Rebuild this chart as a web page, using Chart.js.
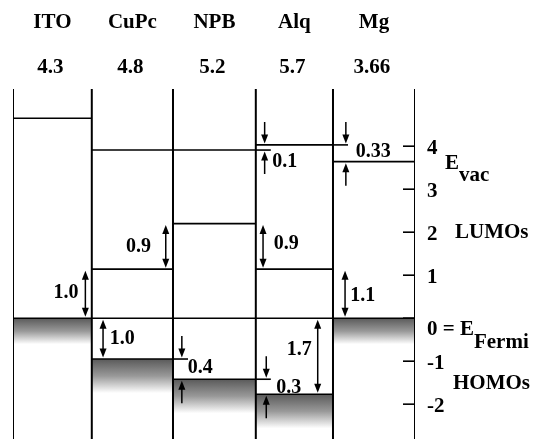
<!DOCTYPE html>
<html>
<head>
<meta charset="utf-8">
<script src="https://cdn.jsdelivr.net/npm/chart.js@4.4.1/dist/chart.umd.min.js"></script>
<style>
  html, body { margin: 0; padding: 0; background: #fff; }
</style>
</head>
<body>
<canvas id="chart" width="536" height="439"></canvas>
<script>
const layers = ['ITO', 'CuPc', 'NPB', 'Alq', 'Mg'];
const workFunctions = ['4.3', '4.8', '5.2', '5.7', '3.66'];
const layerEdges = [0, 0.98, 1.99, 3.02, 3.98, 5];
const vacuumLevels = [4.65, 3.91, 3.91, 4.03, 3.64];
const lumoLevels = [null, 1.14, 2.2, 1.14, null];
const homoLevels = [0, -0.95, -1.42, -1.77, 0];
const fermiLevel = 0;
const tickValues = [4, 3, 2, 1, 0, -1, -2];
const tickLabels = ['4', '3', '2', '1', '0 = E', '-1', '-2'];
const offsetLabels = ['1.0', '0.9', '1.0', '0.4', '0.1', '0.9', '0.33', '1.1', '1.7', '0.3'];

const FONT = 'bold 20px "Liberation Serif", "Times New Roman", serif';
const BIG = 'bold 21px "Liberation Serif", "Times New Roman", serif';

// offset markers: double arrows between two levels, pinch arrows pointing at two levels from outside
const markers = [
  { kind: 'double', x: 0.9, hi: lumoLevels[1], lo: fermiLevel, text: offsetLabels[0], tx: 0.66, ty: 0.58 },
  { kind: 'double', x: 1.9, hi: lumoLevels[2], lo: lumoLevels[1], text: offsetLabels[1], tx: 1.56, ty: 1.65 },
  { kind: 'double', x: 1.12, hi: fermiLevel, lo: homoLevels[1], text: offsetLabels[2], tx: 1.36, ty: -0.47 },
  { kind: 'pinch', x: 2.1, hi: homoLevels[1], lo: homoLevels[2], dash: 'hi', edge: layerEdges[2], text: offsetLabels[3], tx: 2.33, ty: -1.16 },
  { kind: 'pinch', x: 3.13, hi: vacuumLevels[3], lo: vacuumLevels[2], dash: 'lo', edge: layerEdges[3], text: offsetLabels[4], tx: 3.38, ty: 3.63 },
  { kind: 'double', x: 3.11, hi: lumoLevels[2], lo: lumoLevels[3], text: offsetLabels[5], tx: 3.4, ty: 1.74 },
  { kind: 'pinch', x: 4.14, hi: vacuumLevels[3], lo: vacuumLevels[4], dash: 'hi', edge: layerEdges[4], text: offsetLabels[6], tx: 4.48, ty: 3.86 },
  { kind: 'double', x: 4.13, hi: lumoLevels[3], lo: fermiLevel, text: offsetLabels[7], tx: 4.35, ty: 0.53 },
  { kind: 'double', x: 3.79, hi: fermiLevel, lo: homoLevels[3], text: offsetLabels[8], tx: 3.56, ty: -0.74 },
  { kind: 'pinch', x: 3.15, hi: homoLevels[2], lo: homoLevels[3], dash: 'hi', edge: layerEdges[3], text: offsetLabels[9], tx: 3.43, ty: -1.63 }
];

const seg = (x0, x1, y) => [{ x: x0, y }, { x: x1, y }];
const datasets = [];
const addLine = (data, width) => datasets.push({
  data, showLine: true, borderColor: '#000', borderWidth: width, pointRadius: 0, fill: false
});

layerEdges.forEach(e => addLine([{ x: e, y: -2.81 }, { x: e, y: 5.33 }], 2));
layers.forEach((name, i) => {
  addLine(seg(layerEdges[i], layerEdges[i + 1], vacuumLevels[i]), 1.6);
  if (lumoLevels[i] !== null) addLine(seg(layerEdges[i], layerEdges[i + 1], lumoLevels[i]), 1.6);
  if (homoLevels[i] !== fermiLevel) addLine(seg(layerEdges[i], layerEdges[i + 1], homoLevels[i]), 1.6);
});
addLine(seg(layerEdges[0], layerEdges[5], fermiLevel), 1.6);

function head(ctx, x, y, dir) {
  ctx.beginPath();
  ctx.moveTo(x, y);
  ctx.lineTo(x - 3.5, y - dir * 9);
  ctx.lineTo(x + 3.5, y - dir * 9);
  ctx.closePath();
  ctx.fill();
}

const shading = {
  id: 'shading',
  beforeDatasetsDraw(chart) {
    const { ctx, scales: { x, y } } = chart;
    ctx.save();
    layers.forEach((name, i) => {
      const x0 = x.getPixelForValue(layerEdges[i]);
      const x1 = x.getPixelForValue(layerEdges[i + 1]);
      const top = y.getPixelForValue(homoLevels[i]);
      const depth = homoLevels[i] === fermiLevel ? 26 : 34;
      const g = ctx.createLinearGradient(0, top, 0, top + depth);
      g.addColorStop(0, '#5a5a5a');
      g.addColorStop(0.5, '#999');
      g.addColorStop(1, '#fff');
      ctx.fillStyle = g;
      ctx.fillRect(x0, top, x1 - x0, depth);
    });
    ctx.restore();
  }
};

const annotations = {
  id: 'annotations',
  afterDatasetsDraw(chart) {
    const { ctx, scales: { x, y } } = chart;
    ctx.save();
    ctx.strokeStyle = '#000';
    ctx.fillStyle = '#000';
    ctx.lineWidth = 1.5;
    ctx.font = FONT;
    ctx.textBaseline = 'middle';

    markers.forEach(m => {
      const px = x.getPixelForValue(m.x);
      const yh = y.getPixelForValue(m.hi);
      const yl = y.getPixelForValue(m.lo);
      if (m.kind === 'double') {
        ctx.beginPath();
        ctx.moveTo(px, yh + 6);
        ctx.lineTo(px, yl - 6);
        ctx.stroke();
        head(ctx, px, yh + 1.5, -1);
        head(ctx, px, yl - 1.5, 1);
      } else {
        ctx.beginPath();
        ctx.moveTo(px, yh - 23);
        ctx.lineTo(px, yh - 6);
        ctx.moveTo(px, yl + 24);
        ctx.lineTo(px, yl + 6);
        ctx.stroke();
        head(ctx, px, yh - 1.5, 1);
        head(ctx, px, yl + 1.5, -1);
        const dy = m.dash === 'hi' ? yh : yl;
        const ex = x.getPixelForValue(m.edge);
        ctx.beginPath();
        ctx.lineWidth = 1.6;
        ctx.moveTo(ex, dy);
        ctx.lineTo(ex + 15, dy);
        ctx.stroke();
        ctx.lineWidth = 1.5;
      }
      ctx.textAlign = 'center';
      ctx.fillText(m.text, x.getPixelForValue(m.tx), y.getPixelForValue(m.ty));
    });

    // header: layer names and work functions
    ctx.font = BIG;
    layers.forEach((name, i) => {
      const cx = x.getPixelForValue((layerEdges[i] + layerEdges[i + 1]) / 2);
      ctx.textAlign = 'center';
      ctx.fillText(name, cx, 23);
      ctx.fillText(workFunctions[i], cx - 2, 68);
    });

    // right energy axis with inward ticks
    const ax = x.getPixelForValue(layerEdges[5]);
    ctx.lineWidth = 1.6;
    tickValues.forEach((v, i) => {
      const ty = y.getPixelForValue(v);
      ctx.beginPath();
      ctx.moveTo(ax - 12, ty);
      ctx.lineTo(ax, ty);
      ctx.stroke();
      ctx.textAlign = 'left';
      const ly = v === fermiLevel ? ty + 11 : ty + 2;
      ctx.fillText(tickLabels[i], ax + 12, ly);
      if (v === fermiLevel) {
        const w = ctx.measureText(tickLabels[i]).width;
        ctx.fillText('Fermi', ax + 12 + w, ly + 13);
      }
    });
    const ev = y.getPixelForValue(3.6);
    ctx.fillText('E', ax + 30, ev);
    ctx.fillText('vac', ax + 30 + ctx.measureText('E').width, ev + 12);
    ctx.fillText('LUMOs', ax + 40, y.getPixelForValue(1.98));
    ctx.fillText('HOMOs', ax + 38, y.getPixelForValue(-1.51));
    ctx.restore();
  }
};

new Chart(document.getElementById('chart'), {
  type: 'scatter',
  data: { datasets },
  options: {
    responsive: false,
    animation: false,
    layout: { padding: { left: 13, right: 121, top: 89, bottom: 0 } },
    plugins: { legend: { display: false }, tooltip: { enabled: false } },
    scales: {
      x: { type: 'linear', display: false, min: 0, max: 5 },
      y: { type: 'linear', display: false, min: -2.81, max: 5.33 }
    }
  },
  plugins: [shading, annotations]
});
</script>
</body>
</html>
